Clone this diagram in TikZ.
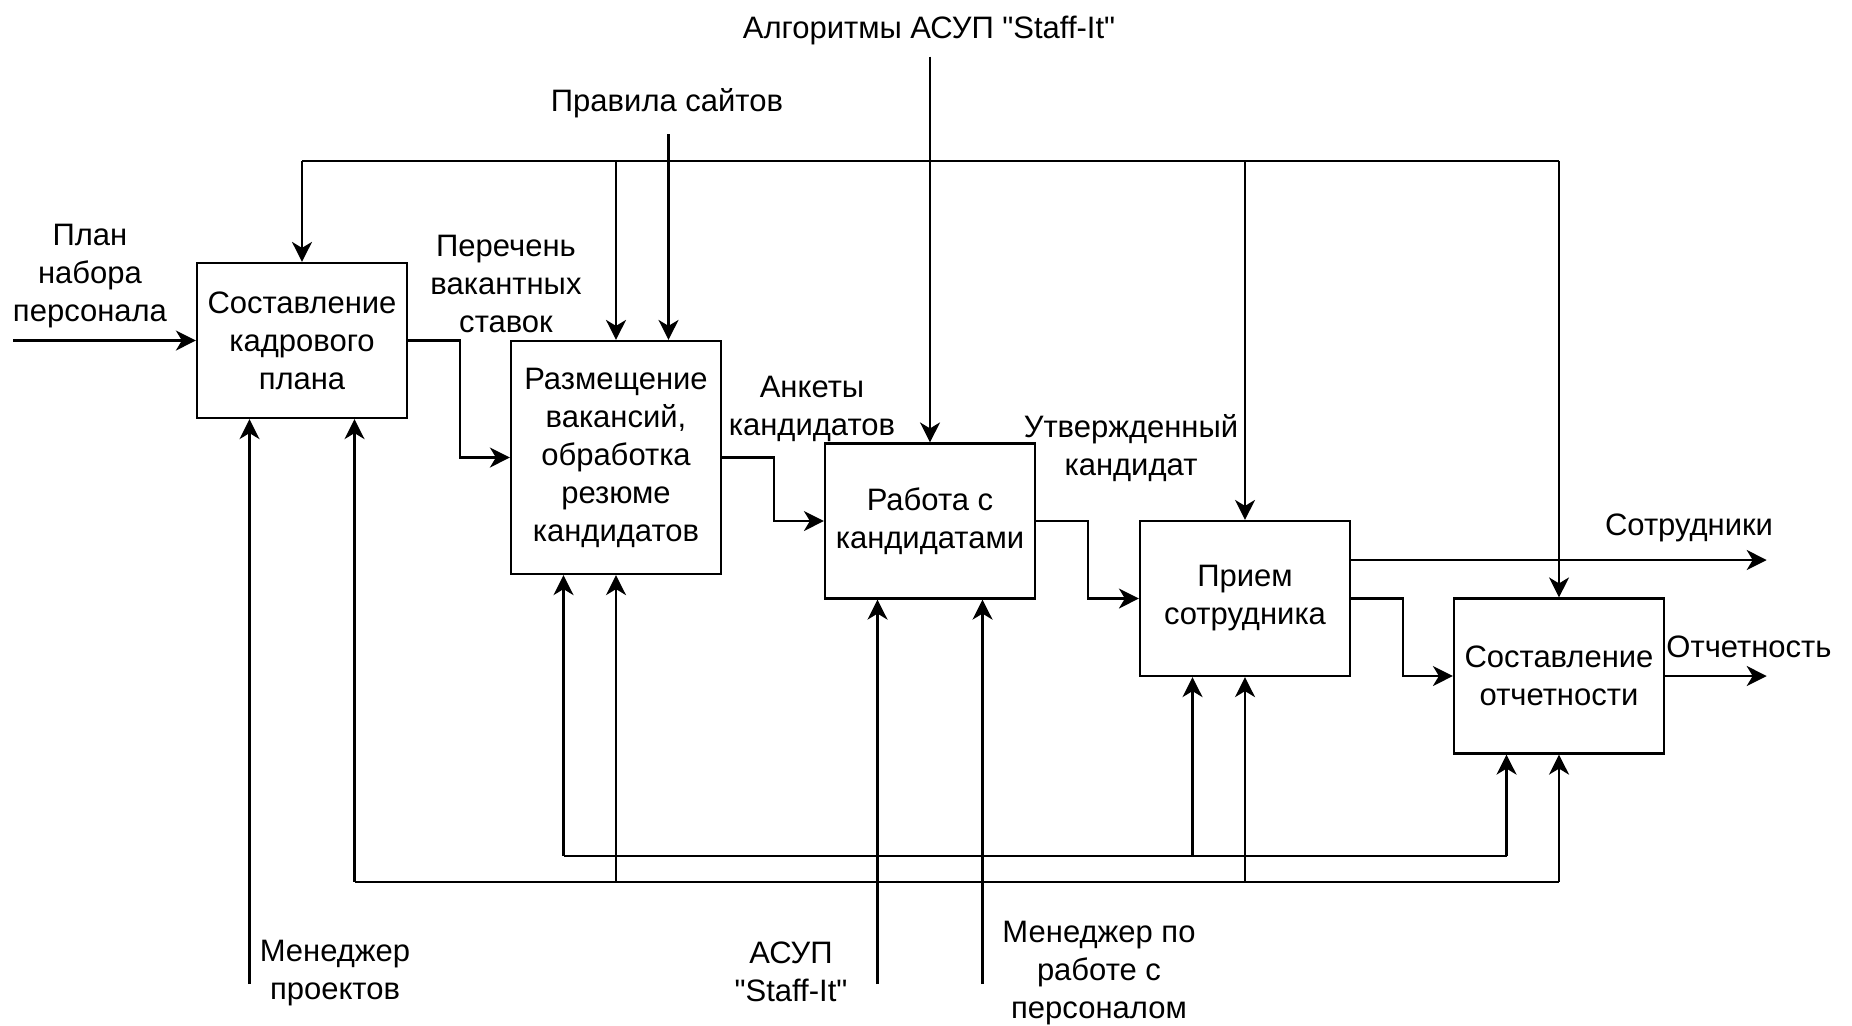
\documentclass[tikz,border=0pt]{standalone}
\usepackage{fontspec}
\setmainfont{Liberation Sans}[Ligatures=TeXOff]
\usetikzlibrary{arrows.meta}

\begin{document}
\begin{tikzpicture}[x=0.5pt, y=-0.5pt,
                    every node/.style={font=\fontsize{15.5}{19}\selectfont, align=center, inner sep=0pt},
                    func/.style={draw, line width=1.1pt, minimum width=105pt, minimum height=77.5pt},
                    arr/.style={line width=1.1pt, -{Stealth[length=10pt, width=10pt, inset=3pt]}},
                    ln/.style={line width=1.1pt}]
                    \useasboundingbox (0,0) rectangle (1852,1025);
                    \node[func] (plan) at (302,340.5) {Составление\\кадрового\\плана};
                    \node[func, minimum height=116.5pt] (vakans) at (616,457.5) {Размещение\\вакансий,\\обработка\\резюме\\кандидатов};
                    \node[func] (kand) at (930,521) {Работа с\\кандидатами};
                    \node[func] (priem) at (1245,598.5) {Прием\\сотрудника};
                    \node[func] (otchet) at (1559,676) {Составление\\отчетности};

                    \coordinate (top) at (0,160.7);
                    \coordinate (lo) at (0,881.7);
                    \coordinate (up) at (0,856);
                    \coordinate (bot) at (0,984);
                    \coordinate (in) at (13,340.5);
                    \coordinate (rs) at (0,134);
                    \coordinate (alg) at (0,56.7);
                    \coordinate (out1) at (1766.7,560);
                    \coordinate (out2) at (1766.7,676);
                    \coordinate (a1) at ([xshift=-26.25pt]plan.south);
                    \coordinate (a2) at ([xshift=26.25pt]plan.south);
                    \coordinate (b1) at ([xshift=-26.25pt]vakans.south);
                    \coordinate (bt) at ([xshift=26.25pt]vakans.north);
                    \coordinate (c1) at ([xshift=-26.25pt]kand.south);
                    \coordinate (c2) at ([xshift=26.25pt]kand.south);
                    \coordinate (d1) at ([xshift=-26.25pt]priem.south);
                    \coordinate (dout) at ([yshift=19.25pt]priem.east);
                    \coordinate (e1) at ([xshift=-26.25pt]otchet.south);

                    \draw[arr] (in) -- (plan.west);
                    \draw[arr] (plan.east) -- ++(51.5,0) |- (vakans.west);
                    \draw[arr] (vakans.east) -- ++(51.5,0) |- (kand.west);
                    \draw[arr] (kand.east) -- ++(51.5,0) |- (priem.west);
                    \draw[arr] (priem.east) -- ++(51.5,0) |- (otchet.west);
                    \draw[arr] (dout) -- (out1 |- dout);
                    \draw[arr] (otchet.east) -- (out2);

                    \draw[ln] (plan.north |- top) -- (otchet.north |- top);
                    \foreach \n in {plan,vakans,priem,otchet}
                        \draw[arr] (\n.north |- top) -- (\n.north);
                    \draw[arr] (bt |- rs) -- (bt);
                    \draw[arr] (kand.north |- alg) -- (kand.north);

                    \draw[ln] (a2 |- lo) -- (otchet.south |- lo);
                    \draw[arr] (a2 |- lo) -- (a2);
                    \draw[arr] (vakans.south |- lo) -- (vakans.south);
                    \draw[arr] (priem.south |- lo) -- (priem.south);
                    \draw[arr] (otchet.south |- lo) -- (otchet.south);
                    \draw[ln] (b1 |- up) -- (e1 |- up);
                    \foreach \p in {b1,d1,e1}
                        \draw[arr] (\p |- up) -- (\p);
                    \draw[arr] (a1 |- bot) -- (a1);
                    \draw[arr] (c1 |- bot) -- (c1);
                    \draw[arr] (c2 |- bot) -- (c2);

                    \node (lplan) at (90,276) {План\\набора\\персонала};
                    \node (lper) at (506,284) {Перечень\\вакантных\\ставок};
                    \node (lank) at (812,408.5) {Анкеты\\кандидатов};
                    \node (lutv) at (1131,448.5) {Утвержденный\\кандидат};
                    \node (lsotr) at (1689,528) {Сотрудники};
                    \node (lotch) at (1749,647) {Отчетность};
                    \node (lprav) at (667,103) {Правила сайтов};
                    \node (lalg) at (929,30) {Алгоритмы АСУП "Staff-It"};
                    \node (lmp) at (335,973) {Менеджер\\проектов};
                    \node (lasup) at (791,972) {АСУП\\"Staff-It"};
                    \node (lmpp) at (1099,973) {Менеджер по\\работе с\\персоналом};
                \end{tikzpicture}
\end{document}
